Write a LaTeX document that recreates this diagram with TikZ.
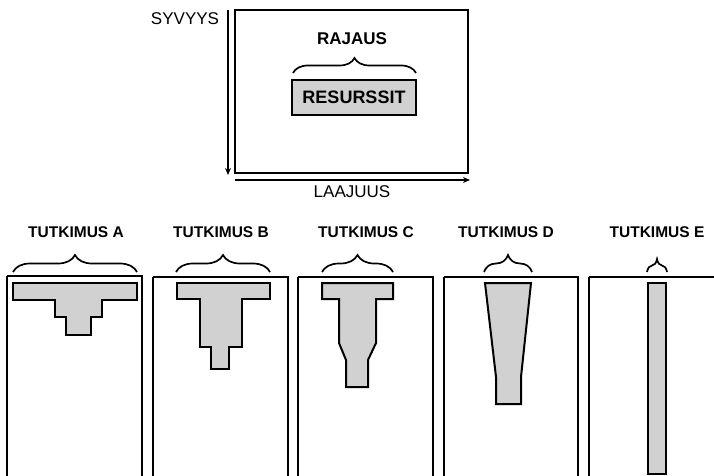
\documentclass[tikz,border=0pt]{standalone}
\usepackage{fontspec}
\setmainfont{Liberation Sans}
\usetikzlibrary{decorations.pathreplacing,arrows.meta}
\begin{document}
\begin{tikzpicture}[x=1pt,y=-1pt,
  frame/.style={draw=black,line width=2.1pt},
  res/.style={draw=black,line width=2pt,fill=black!18,line join=miter},
  ttl/.style={font=\fontsize{15.5}{17}\selectfont\bfseries,inner sep=0pt},
  axlbl/.style={font=\fontsize{17}{19}\selectfont,inner sep=0pt},
  brc/.style={draw=black,line width=1.7pt,decorate,decoration={brace,amplitude=#1}},
  axarrow/.style={line width=2pt,-{Stealth[length=7pt,width=6pt]}}
]
\useasboundingbox (0,0) rectangle (714,476);
\clip (0,0) rectangle (714,476);

% top diagram
\draw[frame] (235,10) rectangle (468,173);
\coordinate (vs) at (228,10);
\coordinate (ve) at (228,175);
\coordinate (hs) at (235,180);
\coordinate (he) at (470,180);
\draw[axarrow] (vs) -- (ve);
\draw[axarrow] (hs) -- (he);
\node[axlbl] (syvyys) at (185,19) {SYVYYS};
\node[axlbl] (laajuus) at (352,192) {LAAJUUS};
\node[font=\fontsize{17}{19}\selectfont\bfseries,inner sep=0pt] (rajaus) at (352,39) {RAJAUS};
\node[res,minimum width=124pt,minimum height=35pt,inner sep=0pt,font=\fontsize{18}{20}\selectfont\bfseries] (resurssit) at (354,97.5) {RESURSSIT};
\draw[brc=15pt] (293,73) -- (416,73);

% panel frames
\draw[frame] (7,276) -- (7,495) (7,276) -- (142,276) -- (142,495);
\draw[frame] (153,277) -- (153,495) (153,277) -- (288,277) -- (288,495);
\draw[frame] (298,277) -- (298,495) (298,277) -- (433,277) -- (433,495);
\draw[frame] (444,277) -- (444,495) (444,277) -- (578,277) -- (578,495);
\draw[frame] (589,277) -- (589,495) (589,277) -- (730,277);

% titles
\node[ttl] (ta) at (76,232) {TUTKIMUS A};
\node[ttl] (tb) at (221,232) {TUTKIMUS B};
\node[ttl] (tc) at (366,232) {TUTKIMUS C};
\node[ttl] (td) at (506,232) {TUTKIMUS D};
\node[ttl] (te) at (657,232) {TUTKIMUS E};

% braces
\draw[brc=17pt] (13,272) -- (137,272);
\draw[brc=17pt] (176,272) -- (270,272);
\draw[brc=17pt] (322,272) -- (393,272);
\draw[brc=17pt] (484,272) -- (532,272);
\draw[brc=13pt] (647,272) -- (667,272);

% shapes
\draw[res] (13,283) -- (137,283) -- (137,300) -- (102,300) -- (102,317) -- (91,317) -- (91,335) -- (66,335) -- (66,317) -- (55,317) -- (55,300) -- (13,300) -- cycle;
\draw[res] (177,283) -- (270,283) -- (270,299) -- (242,299) -- (242,347) -- (229,347) -- (229,369) -- (211,369) -- (211,347) -- (200,347) -- (200,299) -- (177,299) -- cycle;
\draw[res] (322,283) -- (393,283) -- (393,299) -- (376,299) -- (376,343) -- (368,360) -- (368,387) -- (346,387) -- (346,360) -- (339,343) -- (339,299) -- (322,299) -- cycle;
\draw[res] (485,283) -- (531,283) -- (521,377) -- (521,404) -- (496,404) -- (496,377) -- cycle;
\draw[res] (648,283) rectangle (666,474);
\end{tikzpicture}
\end{document}
